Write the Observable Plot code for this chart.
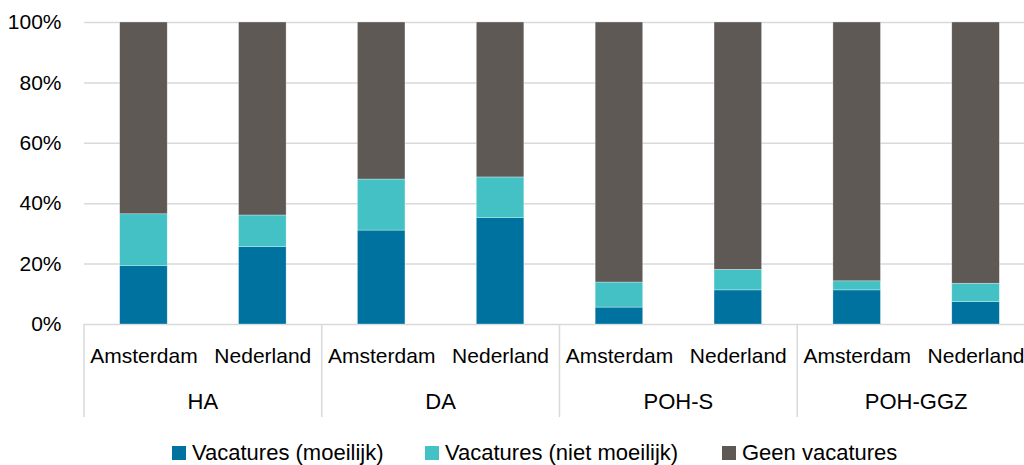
<!DOCTYPE html>
<html><head><meta charset="utf-8">
<script src="https://cdn.jsdelivr.net/npm/d3@7"></script>
<script src="https://cdn.jsdelivr.net/npm/@observablehq/plot@0.6"></script>
<style>
html,body{margin:0;padding:0;background:#fff;overflow:hidden;width:1024px;height:465px}
#chart{position:relative;width:1024px;height:465px;overflow:hidden;font-family:"Liberation Sans",Arial,sans-serif;color:#000}
#chart svg{position:absolute;left:0;top:0;max-width:none !important;width:1041px !important;height:430px !important}
.legend{position:absolute;top:440px;left:0;width:1024px;height:25px;font-size:22px}
.item{position:absolute;top:0;display:flex;align-items:center;height:25px;white-space:nowrap}
.sw{width:14px;height:14px;margin-right:6px;flex:none}
</style></head><body><div id="chart"></div>
<script>
// ---- data ----
const groups = ["HA", "DA", "POH-S", "POH-GGZ"];
const regions = ["Amsterdam", "Nederland"];
const seriesNames = ["Vacatures (moeilijk)", "Vacatures (niet moeilijk)", "Geen vacatures"];
const seriesColors = ["#00729f", "#43c1c5", "#5e5955"];
// order: HA-Ams, HA-Ned, DA-Ams, DA-Ned, POH-S-Ams, POH-S-Ned, POH-GGZ-Ams, POH-GGZ-Ned
const moeilijk     = [19.3, 25.6, 31.1, 35.2, 5.6, 11.3, 11.3, 7.4];
const nietMoeilijk = [17.2, 10.5, 16.9, 13.5, 8.3, 6.8, 3.0, 6.1];
const geen         = [63.5, 63.9, 52.0, 51.3, 86.1, 81.9, 85.7, 86.5];
const yTicks = [0, 20, 40, 60, 80, 100];

// ---- layout ----
const legendLeft = [172, 425, 722];

const key = (g, r) => g + "|" + r;
const keys = groups.flatMap(g => regions.map(r => key(g, r)));
const seriesValues = [moeilijk, nietMoeilijk, geen];
const rows = [];
seriesNames.forEach((s, si) => {
  keys.forEach((k, i) => rows.push({key: k, series: s, value: seriesValues[si][i]}));
});

function categoryAxis(index, scales) {
  const x = scales.x, y = scales.y;
  const bw = x.bandwidth ? x.bandwidth() : 0;
  const step = x(keys[1]) - x(keys[0]);
  const gap = step - bw;
  const y0 = y(0);
  const g = d3.create("svg:g");
  const bounds = groups.map(gr => x(key(gr, regions[0])) - gap / 2);
  bounds.push(x(key(groups[groups.length - 1], regions[1])) + bw + gap / 2);
  for (const xx of bounds) {
    g.append("line").attr("x1", xx).attr("x2", xx).attr("y1", y0).attr("y2", y0 + 93)
      .attr("stroke", "#d9d9d9").attr("stroke-width", 1.5);
  }
  for (const gr of groups) {
    const cx = (x(key(gr, regions[0])) + x(key(gr, regions[1])) + bw) / 2;
    g.append("text").attr("x", cx).attr("y", y0 + 85).attr("text-anchor", "middle")
      .attr("font-size", "22px").attr("fill", "#000").text(gr);
  }
  return g.node();
}

const chart = Plot.plot({
  width: 1041,
  height: 430,
  marginLeft: 84,
  marginRight: 6,
  marginTop: 22,
  marginBottom: 106,
  style: {fontFamily: '"Liberation Sans", Arial, sans-serif', fontSize: "21px", color: "#000", background: "transparent"},
  x: {domain: keys, paddingInner: 0.6, paddingOuter: 0.3, round: false, label: null},
  y: {domain: [0, 100], label: null},
  color: {domain: seriesNames, range: seriesColors},
  marks: [
    Plot.gridY(yTicks, {stroke: "#d9d9d9", strokeOpacity: 1, strokeWidth: 1.5}),
    Plot.barY(rows, {x: "key", y: "value", fill: "series", stroke: "#ffffff", strokeWidth: 0.6, strokeOpacity: 0.5, order: seriesNames}),
    Plot.axisY(yTicks, {tickSize: 0, tickPadding: 23, tickFormat: d => d + "%", label: null}),
    Plot.axisX({tickSize: 0, tickPadding: 24, fontSize: 21, tickFormat: k => k.split("|")[1], label: null}),
    categoryAxis
  ]
});
const root = document.getElementById("chart");
root.appendChild(chart);

const legend = document.createElement("div");
legend.className = "legend";
seriesNames.forEach((s, i) => {
  const it = document.createElement("div");
  it.className = "item";
  it.style.left = legendLeft[i] + "px";
  const sw = document.createElement("span");
  sw.className = "sw";
  sw.style.background = seriesColors[i];
  const t = document.createElement("span");
  t.textContent = s;
  it.appendChild(sw); it.appendChild(t);
  legend.appendChild(it);
});
root.appendChild(legend);
</script></body></html>
